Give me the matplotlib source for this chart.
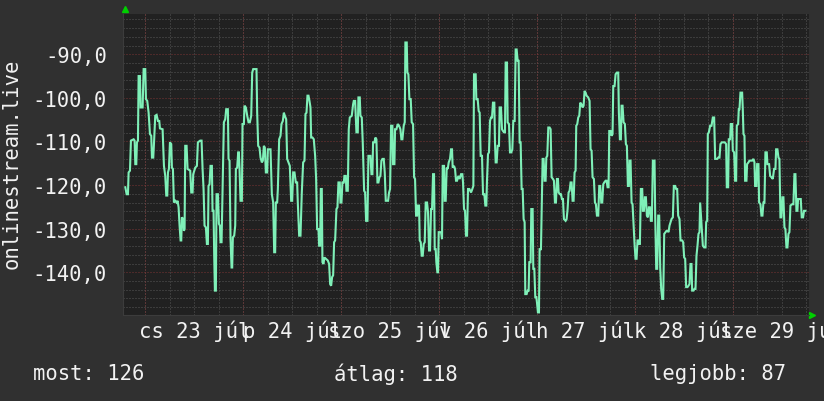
import matplotlib
matplotlib.use("Agg")
import matplotlib.pyplot as plt
from matplotlib.ticker import FixedLocator, FuncFormatter

plt.rcParams['font.family'] = ['DejaVu Sans Mono']

# hours from the left edge of the graph, signal values (dBm-like)
hours = [0.50, 0.82, 1.15, 1.31, 1.64, 1.88, 2.54, 2.78, 2.95, 3.19, 3.35, 3.60, 3.76, 4.09, 4.25, 4.74,
         4.99, 5.39, 5.56, 5.88, 6.21, 6.54, 6.86, 7.03, 7.35, 7.52, 7.84, 8.17, 8.50, 8.82, 8.99, 9.64,
         9.97, 10.29, 10.54, 10.78, 10.95, 11.19, 11.44, 11.76, 11.92, 12.17, 12.41, 12.74, 13.07, 13.31,
         13.56, 13.80, 14.05, 14.21, 14.37, 14.70, 14.86, 15.03, 15.19, 15.52, 15.76, 16.41, 16.66, 16.99,
         17.15, 17.64, 18.05, 18.29, 18.86, 19.19, 19.44, 19.68, 19.92, 20.25, 20.50, 20.74, 20.90, 21.15,
         21.39, 21.72, 21.88, 22.13, 22.29, 22.46, 22.70, 22.86, 23.19, 23.44, 23.68, 23.84, 24.09, 24.33,
         24.66, 24.99, 25.23, 25.64, 25.80, 26.05, 26.29, 26.54, 26.70, 26.86, 27.19, 27.44, 27.60, 27.92,
         28.17,
         28.33, 28.50, 28.74, 29.07, 29.23, 29.56, 29.72, 30.05, 30.38, 30.70, 31.03, 31.36, 31.60, 31.85,
         32.66, 32.82, 33.07, 33.40, 33.64, 33.97, 34.21, 34.46, 34.70, 34.95, 35.27, 35.44, 36.09, 36.25,
         36.42, 36.74, 36.99, 37.23, 37.40, 37.72, 37.89, 38.21, 38.54, 38.78, 39.11, 39.36, 39.60, 39.93,
         40.17, 40.50, 40.82, 41.15, 41.40, 41.64, 41.97, 42.29, 42.62, 42.78, 43.11, 43.44, 43.76, 44.09,
         44.42, 44.66, 44.91, 45.15, 45.40, 45.64, 45.89, 46.05, 46.38, 46.70, 47.03, 47.27, 47.52, 47.85,
         48.01, 48.25, 48.42, 48.66, 48.82, 49.07, 49.31, 49.80, 50.13, 50.46, 50.70, 50.95, 51.19, 51.44,
         51.68, 51.93, 52.25, 52.50, 52.74, 53.07, 53.23, 53.48, 53.72, 54.05, 54.21, 54.54, 54.70, 55.03,
         55.27, 55.52, 56.01, 56.33,
         56.50, 56.83, 56.99, 57.15, 57.48, 57.64, 57.97, 58.13, 58.46, 58.70, 59.03, 59.28, 59.52, 59.85,
         60.09, 60.58, 60.83, 61.07, 61.23, 61.56, 61.81, 62.05, 62.30, 62.54, 62.79, 63.03, 63.28, 63.52,
         63.85, 64.09, 64.34, 64.91, 65.15, 65.40, 65.64, 65.97, 66.13, 66.46, 66.62, 66.95, 67.28, 67.60,
         67.93, 68.17, 68.42, 68.74, 68.99, 69.15, 69.48, 69.64, 69.89, 70.13, 70.46, 70.70, 71.03, 71.28,
         71.52, 71.77, 72.01, 72.17, 72.50, 72.66, 72.91, 73.15, 73.40, 73.64, 73.89, 74.13, 74.46, 74.70,
         74.95, 75.19, 75.44, 75.68, 75.93, 76.17, 76.34, 76.58, 76.74, 76.99, 77.15, 77.32, 77.89, 78.13,
         78.30, 78.62, 78.79, 79.03, 79.28, 79.52, 79.77, 80.09, 80.34, 80.58, 80.74, 81.07, 81.32, 81.56,
         81.81, 82.13, 82.46, 82.79, 83.11, 83.28, 83.52, 83.77, 84.01, 84.26, 84.50, 84.83,
         85.24, 85.56, 85.81, 85.97, 86.38, 86.54, 86.87, 87.11, 87.36, 87.60, 87.93, 88.18, 88.50, 88.75,
         88.99, 89.15, 89.40, 89.64, 89.89, 90.13, 90.38, 90.62, 90.95, 91.11, 91.28, 91.52, 91.77, 92.09,
         92.26, 92.58, 92.83, 93.07, 93.32, 93.56, 93.73, 94.05, 94.22, 94.54, 94.79, 95.11, 95.36, 95.60,
         95.93, 96.18, 96.42, 96.67, 96.91, 97.15, 97.40, 97.64, 97.89, 98.13, 98.38, 98.54, 98.87, 99.11,
         99.36, 99.52, 99.85, 100.01, 100.34, 100.50, 100.75, 100.99, 101.24, 101.40, 101.64, 101.89,
         102.05, 102.38, 102.54, 102.79, 103.03, 103.28, 103.52, 103.69, 103.93, 104.18, 104.50, 104.75,
         104.99, 105.32, 105.56, 105.81, 106.05, 106.30, 106.54, 106.71, 107.03, 107.28, 107.52, 107.77,
         108.01, 108.42, 108.67, 108.91, 109.15, 109.40, 109.64, 109.89, 110.13, 110.38, 110.62, 110.87,
         111.03, 111.28, 111.52, 111.77, 112.01, 112.34, 112.58, 112.83, 113.07, 113.32,
         113.56, 113.97, 114.30, 114.54, 114.79, 115.03, 115.36, 115.61, 115.85, 116.10, 116.42, 116.67,
         116.91, 117.16, 117.40, 117.65, 117.89, 118.22, 118.46, 118.71, 118.95, 119.12, 119.44, 119.69,
         119.93, 120.10, 120.42, 120.67, 120.99, 121.32, 121.48, 121.73, 121.97, 122.14, 122.38, 122.63,
         122.95, 123.20, 123.44, 123.69, 123.93, 124.10, 124.34, 124.59, 124.83, 125.08, 125.32, 125.56,
         125.81, 126.05, 126.30, 126.46, 126.63, 126.87, 127.20, 127.36, 127.61, 127.85, 128.10, 128.34,
         128.59, 128.83, 129.08, 129.32, 129.56, 129.81, 130.22, 130.38, 130.63, 130.87, 131.12, 131.36,
         131.61, 131.85, 132.10, 132.34, 132.59, 132.91, 133.16, 133.40, 133.65, 133.89, 134.14, 134.38,
         134.71, 134.95, 135.28, 135.52, 135.77, 136.01, 136.34, 136.59, 136.99, 137.24, 137.48, 137.73,
         137.97, 138.30, 138.54, 138.79, 139.03, 139.28, 139.44, 139.77, 140.01, 140.26, 140.50, 140.75,
         140.99, 141.24, 141.40,
         142.06, 142.38, 142.71, 142.87, 143.12, 143.28, 143.53, 143.85, 144.18, 144.51, 144.83, 145.08,
         145.57, 145.81, 146.14, 146.38, 146.71, 147.04, 147.44, 147.77, 147.93, 148.26, 148.42, 148.75,
         148.91, 149.24, 149.40, 149.73, 149.97, 150.22, 150.38, 150.71, 150.87, 151.04, 151.28, 151.69,
         151.85, 152.02, 152.26, 152.42, 152.75, 152.91, 153.24, 153.49, 154.14, 154.46, 154.71, 154.87,
         155.20, 155.36, 155.69, 155.85, 156.18, 156.42, 156.67, 156.91, 157.16, 157.40, 157.73, 157.89,
         158.30, 158.55, 158.87, 159.20, 159.53, 159.85, 160.02, 160.34, 160.59, 160.83, 161.08, 161.32,
         161.57, 161.81, 162.06, 162.30, 162.55, 162.79, 163.04, 163.28, 163.53, 163.93, 164.26, 164.51,
         164.75, 165.00, 165.24, 165.40, 165.73, 166.06, 166.30, 166.63, 166.87, 167.20]

values = [-120.5, -122.1, -122.1, -117.1, -116.7, -109.8, -109.5, -109.8, -115.2, -115.2, -110.2, -109.8,
          -95.0, -95.0, -102.2, -102.2, -93.4, -93.4, -100.3, -100.7, -103.4, -108.3, -108.7, -113.7,
          -113.7, -110.6, -104.1, -103.9, -105.3, -105.3, -107.0, -107.2, -115.6, -117.9, -122.4, -122.4,
          -117.1, -116.3, -110.2, -110.6, -116.0, -116.3, -124.0, -123.6, -124.0, -123.6, -125.1, -129.3,
          -132.7, -132.7, -127.4, -127.8, -130.5, -130.1, -111.0, -111.0, -116.3, -116.7, -121.7, -121.7,
          -117.5, -116.0, -115.6, -110.2, -109.8, -109.8, -116.3, -120.9, -129.3, -129.7, -133.5, -133.5,
          -120.2, -119.8, -115.6, -115.6, -125.9, -125.9, -136.2, -144.2, -144.2, -122.1, -122.1, -128.9,
          -129.3, -133.1, -133.1, -121.7, -105.6, -104.9, -102.6, -102.6, -114.0, -114.4, -132.4, -138.9,
          -138.9, -132.0, -131.6, -129.3, -116.3, -116.0, -112.5,
          -112.5, -116.3, -123.6, -123.6, -106.0, -106.0, -101.8, -102.2, -104.1, -105.6, -105.6, -104.1,
          -94.2, -93.4, -93.4, -103.4, -111.0, -111.4, -113.7, -114.8, -114.4, -111.0, -111.4, -117.1,
          -117.1, -111.8, -111.8, -117.1, -122.1, -124.0, -135.4, -135.4, -124.0, -124.0, -120.9, -109.5,
          -108.7, -106.0, -105.3, -103.4, -104.1, -104.9, -114.0, -114.8, -115.6, -123.6, -123.6, -117.1,
          -117.1, -119.4, -119.4, -124.0, -131.6, -131.6, -121.7, -114.8, -114.4, -103.7, -103.4, -99.5,
          -99.5, -100.7, -102.2, -109.1, -109.1, -109.5, -113.3, -118.6, -130.1, -130.1, -133.9, -133.9,
          -120.9, -120.9, -137.7, -138.1, -136.6, -137.0, -137.3, -138.1, -142.7, -143.1, -141.1, -140.7,
          -133.1, -132.7, -125.5, -125.1, -119.4, -119.4, -124.0, -124.0, -119.4, -119.4, -117.9, -117.9,
          -121.3, -121.3, -107.2, -104.5, -104.1, -101.5,
          -100.7, -100.7, -104.1, -107.9, -107.9, -99.9, -99.9, -104.1, -104.5, -110.2, -121.3, -121.7,
          -128.2, -128.2, -113.3, -113.3, -117.5, -117.5, -110.2, -110.2, -109.1, -109.5, -119.4, -119.4,
          -118.2, -117.9, -114.4, -114.0, -114.0, -117.1, -123.6, -123.6, -121.7, -120.9, -106.4, -106.4,
          -115.2, -115.2, -107.2, -107.2, -106.0, -106.4, -107.2, -109.5, -109.5, -106.4, -105.6, -87.3,
          -87.3, -94.2, -94.6, -100.3, -100.3, -105.6, -106.0, -118.2, -118.6, -127.0, -127.0, -124.7,
          -124.7, -132.7, -133.1, -136.2, -136.2, -133.5, -133.1, -124.0, -124.0, -126.3, -135.0, -135.0,
          -125.5, -125.5, -117.5, -117.5, -134.7, -134.7, -137.7, -140.0, -140.0, -130.8, -130.8, -132.4,
          -115.6, -115.6, -123.6, -123.6, -116.0, -116.3, -114.8, -114.0, -111.8, -111.8, -116.0, -115.6,
          -116.3, -119.0, -119.0, -117.9, -118.6, -117.5, -117.5, -119.4, -125.5, -125.9, -131.6, -131.6,
          -120.9, -120.9,
          -121.7, -120.9, -120.2, -94.6, -94.6, -100.3, -100.3, -103.0, -103.4, -113.3, -113.3, -122.1,
          -122.1, -124.7, -124.7, -119.0, -112.9, -112.5, -105.3, -104.5, -104.5, -101.1, -101.1, -110.2,
          -114.8, -114.8, -111.0, -111.0, -102.2, -102.2, -107.2, -107.6, -107.9, -107.9, -91.9, -91.9,
          -105.6, -106.0, -112.5, -112.5, -111.8, -105.3, -105.3, -88.9, -88.9, -91.5, -91.5, -110.2,
          -110.2, -120.9, -120.9, -127.8, -128.5, -145.0, -145.0, -144.2, -144.2, -137.7, -137.7, -125.5,
          -125.5, -139.2, -139.2, -145.7, -145.7, -146.9, -149.2, -149.2, -134.7, -134.7, -127.0, -114.0,
          -114.0, -119.0, -119.0, -113.7, -113.3, -106.8, -106.8, -107.2, -118.2, -118.6, -119.0, -124.0,
          -124.0, -118.6, -118.6, -121.7, -122.1, -122.1, -123.2, -123.2, -127.8, -128.2, -127.8, -125.5,
          -121.7, -121.3, -119.4, -119.4, -123.6, -123.6, -117.1, -116.7, -106.4, -106.0, -104.5, -104.1,
          -101.1, -101.5, -102.2, -101.8, -98.4, -98.8,
          -99.5, -99.9, -100.7, -111.8, -112.1, -118.2, -118.6, -124.0, -124.4, -127.0, -127.0, -120.2,
          -120.2, -124.0, -124.0, -119.8, -119.4, -119.0, -119.0, -120.5, -120.5, -107.6, -107.6, -108.7,
          -108.3, -97.3, -97.3, -94.6, -94.2, -94.2, -103.4, -109.5, -109.5, -101.8, -101.8, -105.6,
          -106.0, -110.6, -111.0, -120.2, -120.2, -114.4, -114.4, -124.0, -124.4, -129.3, -133.5, -136.9,
          -136.9, -132.7, -132.7, -133.5, -133.5, -120.9, -120.9, -125.9, -125.9, -122.8, -122.8, -127.0,
          -127.4, -125.1, -125.1, -128.2, -128.2, -114.4, -114.4, -127.0, -139.2, -139.2, -127.0, -127.0,
          -138.9, -143.8, -146.1, -146.1, -131.2, -130.8, -130.5, -130.5, -130.8, -129.3, -128.5, -127.8,
          -127.4, -120.2, -120.2, -120.9, -120.9, -127.0, -127.8, -132.7, -132.7, -133.1, -136.6, -136.9,
          -143.4, -143.4, -143.1, -142.7, -138.1, -138.1, -144.2, -144.2, -143.8, -143.8, -136.2, -133.9,
          -131.2, -130.8, -124.0,
          -133.9, -134.3, -134.3, -128.5, -128.2, -108.3, -107.9, -106.4, -106.4, -104.5, -104.5, -114.0,
          -114.0, -113.7, -113.7, -110.6, -110.2, -110.2, -110.2, -110.6, -120.5, -120.5, -109.5, -109.5,
          -106.0, -106.0, -112.1, -112.5, -119.0, -119.0, -106.4, -106.0, -102.6, -102.6, -98.8, -98.8,
          -102.6, -108.3, -108.7, -119.0, -119.0, -115.2, -114.8, -114.4, -114.4, -114.0, -114.8, -120.2,
          -120.2, -115.2, -115.2, -124.0, -124.4, -127.0, -127.0, -124.0, -124.0, -112.5, -112.5, -115.2,
          -115.2, -117.9, -118.2, -118.6, -116.3, -116.3, -111.8, -111.8, -113.7, -114.0, -127.4, -127.4,
          -122.8, -122.8, -129.7, -130.1, -134.3, -134.3, -131.2, -130.8, -124.7, -124.4, -124.4, -117.5,
          -117.5, -125.9, -125.9, -123.2, -123.2, -123.2, -127.4, -127.4, -125.9, -125.9]

y_ticks = [-140, -130, -120, -110, -100, -90]
day_labels = ["cs 23 júl", "p 24 júl", "szo 25 júl", "v 26 júl", "h 27 júl", "k 28 júl", "sze 29 júl"]
first_midnight = 5.4
summary = [("most: 126", 0.040), ("átlag: 118", 0.405), ("legjobb: 87", 0.789)]

bg = "#303030"
face = "#212121"
txt = "#f2f2f2"

fig = plt.figure(figsize=(8.24, 4.02), dpi=100, facecolor=bg)
ax = fig.add_axes([0.1496, 0.2139, 0.8318, 0.7495])
ax.set_facecolor(face)

ax.plot(hours, values, color="#7ff0b8", lw=1.5, zorder=3, solid_joinstyle="miter")

ax.set_xlim(0, 168)
ax.set_ylim(-149.8, -80.7)

# y grid: minor every 2, major every 10
ax.yaxis.set_major_locator(FixedLocator(y_ticks))
ax.yaxis.set_minor_locator(FixedLocator(list(range(-148, -80, 2))))
ax.yaxis.set_major_formatter(FuncFormatter(lambda v, p: ("%.1f" % v).replace(".", ",")))

# x: labels at noon, grey lines every 6 h, red lines at midnight
midnights = [first_midnight + 24 * k for k in range(7)]
noons = [m + 12 for m in midnights]
six_hours = [first_midnight + 6 * k for k in range(28)]
ax.set_xticks(noons)
ax.set_xticklabels(day_labels)
ax.xaxis.set_minor_locator(FixedLocator(six_hours))
ax.xaxis.remove_overlapping_locs = False

dots = (0, (1, 2))
ax.grid(which="minor", color="#575757", lw=0.72, ls=dots)
ax.yaxis.grid(which="major", color="#7a3434", lw=0.72, ls=dots)
ax.xaxis.grid(which="major", visible=False)
ax.vlines(midnights, -149.8, -80.7, color="#7a3434", lw=0.72, ls=dots, zorder=1.5)
ax.set_axisbelow(True)

ax.tick_params(axis="both", which="both", length=0, colors=txt, labelsize=14.8)
ax.tick_params(axis="y", pad=11.7)
ax.tick_params(axis="x", pad=3.5)

for s in ax.spines.values():
    s.set_visible(False)
ax.spines["left"].set_visible(True)
ax.spines["bottom"].set_visible(True)
ax.spines["left"].set_color("#3c3c3c")
ax.spines["bottom"].set_color("#3c3c3c")

# axis arrows
ax.plot([0.003], [1.014], marker="^", color="#00d000", ms=5, transform=ax.transAxes, clip_on=False)
ax.plot([1.005], [0.0], marker=">", color="#00d000", ms=5, transform=ax.transAxes, clip_on=False)

fig.text(0.0146, 0.592, "onlinestream.live", rotation=90, ha="center", va="center",
         color=txt, fontsize=14.8)
for label, xpos in summary:
    fig.text(xpos, 0.0697, label, ha="left", va="center", color=txt, fontsize=14.8)

fig.savefig("out.png", dpi=100, facecolor=bg)
